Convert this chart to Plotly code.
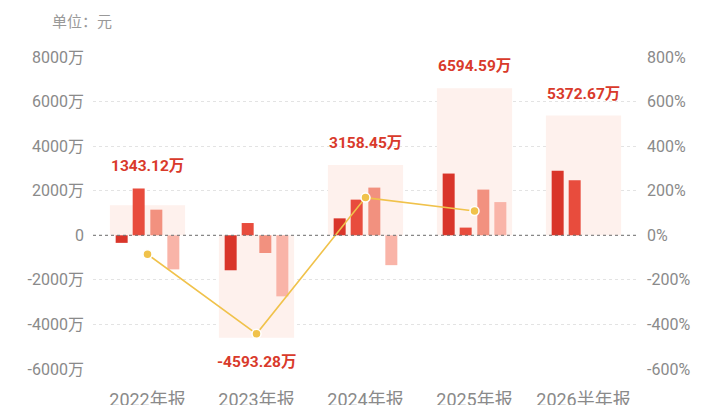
import plotly.graph_objects as go

# Data (values in 万元, growth in %)
periods = ["2022年报", "2023年报", "2024年报", "2025年报", "2026半年报"]
totals = [1343.12, -4593.28, 3158.45, 6594.59, 5372.67]
q1 = [-340, -1570, 760, 2770, 2900]
q2 = [2100, 550, 1600, 345, 2470]
q3 = [1150, -795, 2140, 2050, None]
q4 = [-1530, -2740, -1340, 1490, None]
growth = [-85, -442, 169, 109, None]
ytick_vals = [-6000, -4000, -2000, 0, 2000, 4000, 6000, 8000]
ytick_text = ["-6000万", "-4000万", "-2000万", "0", "2000万", "4000万", "6000万", "8000万"]
y2tick_vals = [-600, -400, -200, 0, 200, 400, 600, 800]
y2tick_text = ["-600%", "-400%", "-200%", "0%", "200%", "400%", "600%", "800%"]

x = list(range(len(periods)))
font_num = "Roboto, Noto Sans CJK SC, sans-serif"

fig = go.Figure()

# light background bar for the full period total
fig.add_trace(go.Bar(
    x=x, y=totals, width=0.69, offset=-0.345,
    marker=dict(color="#fef1ed", line=dict(width=0)),
    hoverinfo="skip", showlegend=False,
))

# quarter bars
bar_w = 0.11
quarters = [q1, q2, q3, q4]
colors = ["#d9352a", "#e84c3d", "#f2917f", "#f9b4a8"]
centers = [-0.237, -0.081, 0.081, 0.237]
for vals, col, c in zip(quarters, colors, centers):
    fig.add_trace(go.Bar(
        x=x, y=vals, width=bar_w, offset=c - bar_w / 2,
        marker=dict(color=col, line=dict(width=0)),
        showlegend=False,
    ))

# growth line on right axis
fig.add_trace(go.Scatter(
    x=x, y=growth, yaxis="y2", mode="lines+markers",
    line=dict(color="#f0c24b", width=1.6),
    marker=dict(size=9, color="#f0c24b", line=dict(color="white", width=1.5)),
    showlegend=False, connectgaps=False,
))

# total labels above / below each group
for i, t in enumerate(totals):
    group = [t] + [v for v in (q1[i], q2[i], q3[i], q4[i]) if v is not None]
    if t >= 0:
        fig.add_annotation(x=i, y=max(group), text=f"<b>{t:.2f}万</b>", showarrow=False,
                           yanchor="bottom", yshift=11,
                           font=dict(family=font_num, size=15.5, color="#d93a2b"))
    else:
        fig.add_annotation(x=i, y=min(group), text=f"<b>{t:.2f}万</b>", showarrow=False,
                           yanchor="top", yshift=-13,
                           font=dict(family=font_num, size=15.5, color="#d93a2b"))

# unit note, top left
fig.add_annotation(x=-0.079, y=1.112, xref="paper", yref="paper", text="单位：元", showarrow=False,
                   xanchor="left", yanchor="middle",
                   font=dict(family=font_num, size=15, color="#999999"))

fig.update_layout(
    width=720, height=405,
    margin=dict(l=85, r=90, t=49, b=44),
    plot_bgcolor="white", paper_bgcolor="white",
    barmode="overlay",
    font=dict(family=font_num, color="#8a8a8a"),
    xaxis=dict(
        tickmode="array", tickvals=x, ticktext=periods, automargin=False,
        range=[-0.5, 4.5], showgrid=False, zeroline=False, showline=False,
        ticks="", tickfont=dict(size=18, color="#8a8a8a"), ticklabelstandoff=18,
    ),
    yaxis=dict(
        range=[-6000, 8000], tickmode="array", tickvals=ytick_vals, ticktext=ytick_text,
        showgrid=True, gridcolor="#e3e3e3", griddash="dot", gridwidth=1, automargin=False,
        zeroline=False,
        tickfont=dict(size=16, color="#8a8a8a"), ticklabelstandoff=8,
    ),
    yaxis2=dict(
        range=[-600, 800], overlaying="y", side="right", automargin=False,
        tickmode="array", tickvals=y2tick_vals, ticktext=y2tick_text,
        showgrid=False, zeroline=False,
        tickfont=dict(size=16, color="#8a8a8a"), ticklabelstandoff=8,
    ),
)

# dashed zero line
fig.add_hline(y=0, line=dict(color="#707070", width=1, dash="3px,3px"), layer="above")

fig.write_html("out.html")
